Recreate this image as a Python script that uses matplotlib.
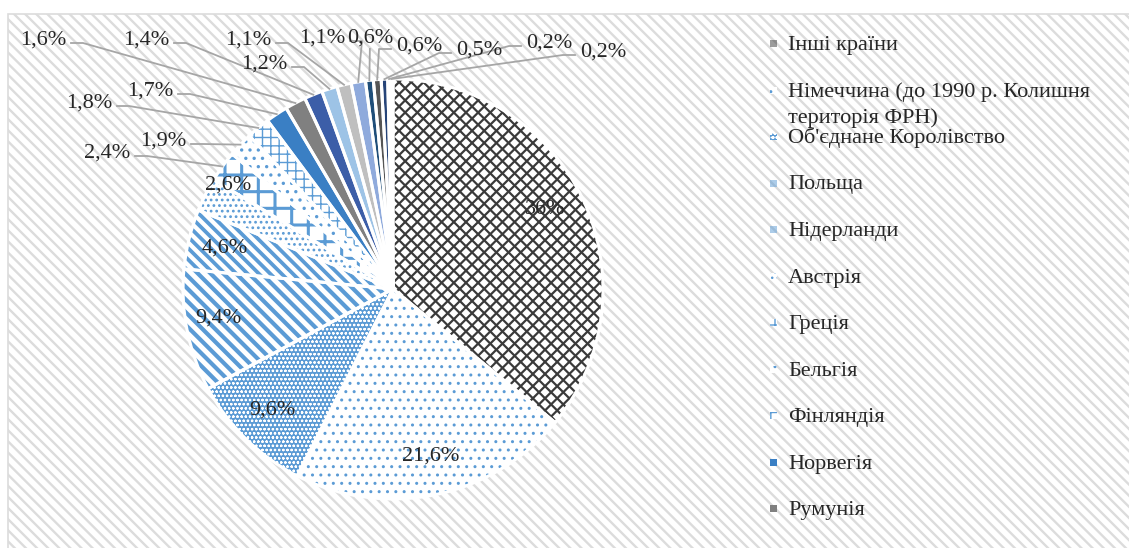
import numpy as np
import matplotlib as mpl
import matplotlib.pyplot as plt
from matplotlib.patches import Wedge, Rectangle
from matplotlib.collections import LineCollection

# розмір полотна у пікселях
W, H = 1129, 548

# частки країн, %
shares = [36.0, 21.6, 9.6, 9.4, 4.6, 2.6, 2.4, 1.9, 1.8, 1.7, 1.6,
          1.4, 1.2, 1.1, 1.1, 0.6, 0.6, 0.5, 0.2, 0.2]
# підписи легенди (видно лише перші 11)
legend_names = ['Інші країни',
                'Німеччина (до 1990 р. Колишня\nтериторія ФРН)',
                "Об'єднане Королівство",
                'Польща',
                'Нідерланди',
                'Австрія',
                'Греція',
                'Бельгія',
                'Фінляндія',
                'Норвегія',
                'Румунія']

# заливка, штрихування, колір штриха, товщина штриха
# кортеж ('L', кути, крок px) - лінії, намальовані вручну
styles = [
    ('white', ('L', (45, -45), 8.6), '#3a3a3a', 1.6),
    ('white', '..', '#5b9bd5', 1.0),
    ('#5b9bd5', 'oooo', 'white', 0.6),
    ('white', ('L', (-45,), 9.0), '#5b9bd5', 3.0),
    ('white', ('L', (-45,), 8.0), '#5b9bd5', 2.7),
    ('white', '...', '#5b9bd5', 1.2),
    ('white', '+', '#5b9bd5', 2.2),
    ('white', '..', '#5b9bd5', 1.2),
    ('white', '++', '#5b9bd5', 1.0),
    ('#3a7fc4', None, None, 0),
    ('#808080', None, None, 0),
    ('#3c5ea8', None, None, 0),
    ('#9dc3e6', None, None, 0),
    ('#bfbfbf', None, None, 0),
    ('#8faadc', None, None, 0),
    ('#1f4e79', None, None, 0),
    ('#555555', None, None, 0),
    ('#264478', None, None, 0),
    ('#a5a5a5', None, None, 0),
    ('#203864', None, None, 0),
]

# положення підписів (пікселі від верхнього лівого кута)
label_pos = [(545, 210), (431, 456), (272, 410), (218, 318), (225, 248),
             (228, 185), (107, 153), (163, 141), (89, 103), (150, 91),
             (43, 40), (146, 40), (264, 64), (248, 40), (322, 38),
             (370, 38), (419, 46), (479, 50), (549, 43), (603, 52)]

plt.rcParams['font.family'] = ['Liberation Serif', 'DejaVu Serif']
txt_color = '#262626'
line_color = '#a6a6a6'
FS = 16


def Y(py):
    return H - py


def with_hatch_lw(p, lw):
    # товщина штриха для окремого патча
    if hasattr(p, 'set_hatch_linewidth'):
        p.set_hatch_linewidth(lw)
    orig = p.draw

    def draw(renderer):
        with mpl.rc_context({'hatch.linewidth': lw}):
            orig(renderer)
    p.draw = draw
    return p


fig = plt.figure(figsize=(W / 100, H / 100), dpi=100)
ax = fig.add_axes([0, 0, 1, 1])

# фон діаграми у смужку
bg = Rectangle((8, -5), W + 10, H - 14 + 5, facecolor='white',
               edgecolor='#dcdcdc', hatch='\\\\\\', linewidth=1.2, zorder=0)
ax.add_patch(with_hatch_lw(bg, 1.7))

cx, cy, R = 393, Y(289), 210
wedges, _ = ax.pie(shares, startangle=90, counterclock=False,
                   center=(cx, cy), radius=R,
                   colors=[s[0] for s in styles],
                   wedgeprops=dict(edgecolor='white', linewidth=0))


def line_texture(wedge, angles, step, color, lw):
    segs = []
    L = 2 * R + 40
    c = np.array([cx, cy])
    for ang in angles:
        t = np.deg2rad(ang)
        d = np.array([np.cos(t), np.sin(t)])
        n = np.array([-d[1], d[0]])
        for k in np.arange(-L, L, step):
            p = c + n * k
            segs.append([p - d * L, p + d * L])
    lc = LineCollection(segs, colors=color, linewidths=lw, zorder=3)
    ax.add_collection(lc)
    lc.set_clip_path(wedge)


for w, (fc, hatch, hc, hlw) in zip(wedges, styles):
    w.set_zorder(2)
    if isinstance(hatch, tuple):
        line_texture(w, hatch[1], hatch[2], hc, hlw)
    elif hatch:
        hp = Wedge(w.center, w.r, w.theta1, w.theta2, facecolor='none',
                   edgecolor=hc, hatch=hatch, linewidth=0, zorder=3)
        ax.add_patch(with_hatch_lw(hp, hlw))
    ax.add_patch(Wedge(w.center, w.r, w.theta1, w.theta2, facecolor='none',
                       edgecolor='white', linewidth=2.2, zorder=4))

# підписи відсотків
for i, (w, v) in enumerate(zip(wedges, shares)):
    s = f'{v:g}'.replace('.', ',') + '%'
    tx, ty = label_pos[i]
    ax.text(tx, Y(ty), s, ha='center', va='center', fontsize=FS,
            color=txt_color, zorder=6)
    if i < 6:
        continue
    a = np.deg2rad((w.theta1 + w.theta2) / 2)
    wx, wy = cx + R * np.cos(a), cy + R * np.sin(a)
    dx = wx - tx
    if abs(dx) < 25:
        xs = [tx + dx * 0.2, wx]
        ys = [Y(ty + 11), wy]
    else:
        sgn = 1 if dx > 0 else -1
        sx = tx + sgn * 28
        xs = [sx, sx + sgn * 12, wx]
        ys = [Y(ty + 3), Y(ty + 3), wy]
    ax.plot(xs, ys, color=line_color, lw=1.3, zorder=5)

# легенда
for i, name in enumerate(legend_names):
    fc, hatch, hc, hlw = styles[i]
    ly = 44 + i * 46.5
    if isinstance(hatch, tuple):
        mk = Rectangle((770, Y(ly + 3)), 7, 7, facecolor=hc, alpha=0.5,
                       linewidth=0, zorder=5)
    else:
        mk = Rectangle((770, Y(ly + 3)), 7, 7, facecolor=fc,
                       edgecolor=hc if hc else fc, hatch=hatch, linewidth=0,
                       zorder=5)
        if hatch:
            with_hatch_lw(mk, 1.0)
    ax.add_patch(mk)
    for j, line in enumerate(name.split('\n')):
        ax.text(788, Y(ly + 6 + j * 26), line, ha='left', va='baseline',
                fontsize=FS, color=txt_color, zorder=6)

ax.set_xlim(0, W)
ax.set_ylim(0, H)
ax.set_aspect('auto')
ax.axis('off')

fig.savefig('out.png', dpi=100)
